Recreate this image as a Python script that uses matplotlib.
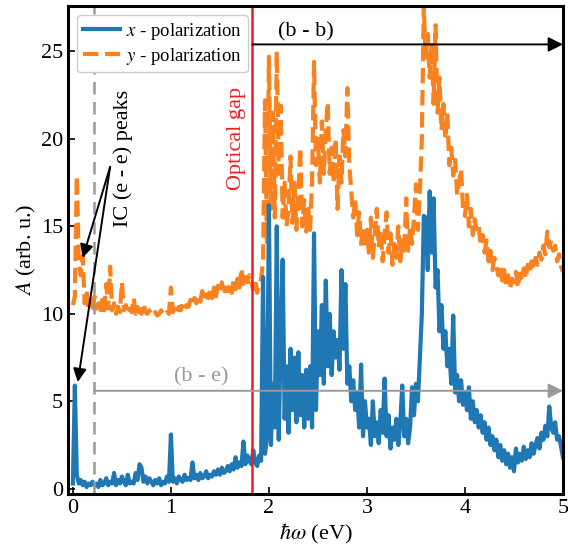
import numpy as np
import matplotlib
matplotlib.use('Agg')
import matplotlib.pyplot as plt

plt.rcParams['font.family'] = ['Liberation Serif', 'DejaVu Serif']
plt.rcParams['mathtext.fontset'] = 'stix'

# energy grid (eV), 0.02 eV step
energy = np.round(np.arange(0, 5.0001, 0.02), 2)

# x - polarization
a_x = [
    0.3, 5.9, 0.8, 0.3, 0.5, 0.2, 0.4, 0.1, 0.3, 0.2,
    0.4, 0.2, 0.3, 0.1, 0.5, 0.2, 0.3, 0.6, 0.2, 0.4,
    0.3, 0.9, 0.2, 0.5, 0.3, 0.7, 0.4, 0.2, 0.8, 0.3,
    0.4, 0.3, 0.9, 0.5, 1.4, 1.2, 0.4, 0.7, 0.3, 0.6,
    0.4, 0.2, 0.5, 0.3, 0.6, 0.2, 0.4, 0.3, 0.7, 0.4,
    3.1, 0.4, 0.6, 0.3, 0.7, 0.5, 0.4, 0.8, 0.5, 0.6,
    0.5, 1.5, 0.6, 0.8, 0.5, 0.9, 0.6, 0.7, 1.0, 0.6,
    0.8, 0.7, 1.0, 0.8, 1.1, 0.8, 1.2, 0.9, 1.0, 1.3,
    1.0, 1.4, 1.1, 1.8, 1.2, 1.5, 1.3, 2.7, 1.4, 1.9,
    1.6, 1.4, 2.2, 1.5, 1.3, 1.9, 1.6, 12.1, 2.0, 3.0,
    16.2, 2.5, 6.0, 3.5, 15.0, 2.8, 8.5, 13.1, 4.0, 7.0,
    3.2, 8.0, 4.5, 7.5, 3.8, 7.8, 4.2, 6.5, 3.5, 6.8,
    4.0, 7.0, 3.5, 14.6, 4.5, 9.0, 6.5, 10.5, 6.0, 11.9,
    7.0, 10.0, 6.5, 9.0, 7.5, 8.5, 6.8, 12.5, 8.0, 11.7,
    6.0, 7.0, 5.0, 6.2, 4.5, 5.5, 3.5, 7.1, 3.0, 5.0,
    3.5, 4.0, 2.5, 5.0, 3.0, 3.8, 2.6, 4.5, 3.2, 6.3,
    3.0, 4.2, 2.3, 3.5, 2.8, 4.0, 2.5, 3.8, 5.9, 3.0,
    4.0, 2.6, 3.5, 5.8, 4.2, 6.0, 5.0, 7.5, 10.0, 15.6,
    15.5, 12.5, 17.0, 13.5, 16.6, 11.5, 12.5, 9.0, 10.5, 8.0,
    9.0, 7.0, 8.0, 6.0, 9.9, 5.5, 6.5, 5.0, 6.2, 4.8,
    5.5, 4.5, 5.8, 4.0, 5.0, 3.8, 4.5, 3.5, 4.2, 3.2,
    3.8, 2.8, 3.5, 2.5, 3.0, 2.2, 2.8, 1.8, 2.5, 1.6,
    2.2, 1.4, 2.0, 1.2, 1.8, 1.0, 2.3, 1.5, 2.0, 1.6,
    2.4, 1.7, 2.2, 1.8, 2.6, 2.0, 2.5, 2.9, 2.3, 3.2,
    2.8, 3.6, 3.0, 4.7, 3.5, 3.2, 3.8, 2.8, 3.0, 2.4,
    1.8,
]

# y - polarization
a_y = [
    10.5, 11.0, 17.9, 13.0, 12.2, 13.3, 10.6, 11.3, 10.2, 10.8,
    10.1, 11.0, 10.3, 10.6, 10.0, 10.8, 10.2, 11.7, 10.3, 12.7,
    10.2, 10.6, 10.0, 10.4, 10.1, 11.8, 10.2, 10.5, 10.0, 10.3,
    10.1, 10.9, 10.0, 10.4, 10.1, 10.0, 10.6, 10.1, 10.0, 10.2,
    9.9, 10.0, 10.1, 9.9, 10.0, 10.2, 10.0, 9.9, 10.1, 10.0,
    11.5, 10.1, 10.3, 10.0, 10.4, 10.2, 10.6, 10.3, 10.5, 10.4,
    10.8, 10.5, 10.9, 10.6, 11.0, 10.7, 11.3, 10.8, 11.1, 10.9,
    11.4, 10.9, 11.5, 11.0, 11.6, 11.2, 11.8, 11.1, 11.5, 11.3,
    11.7, 11.2, 11.9, 11.4, 12.0, 11.5, 12.6, 11.6, 12.1, 11.8,
    12.2, 11.8, 11.4, 12.0, 11.2, 11.6, 12.0, 13.0, 22.2, 14.0,
    24.7, 16.0, 21.5, 15.5, 25.0, 18.0, 21.9, 15.5, 17.5, 15.0,
    16.0, 19.0, 15.2, 17.5, 14.8, 16.8, 19.5, 15.0, 16.5, 14.7,
    16.0, 14.8, 17.5, 24.4, 18.5, 20.0, 17.5, 21.0, 18.0, 20.5,
    22.1, 18.0, 19.5, 17.5, 20.0, 16.0, 19.0, 17.5, 20.5, 19.0,
    22.9, 18.5, 17.0, 15.5, 16.5, 14.5, 15.8, 14.0, 15.0, 13.8,
    14.8, 13.5, 15.5, 13.2, 14.5, 16.0, 13.8, 14.8, 13.0, 14.5,
    15.8, 13.5, 14.6, 12.8, 14.0, 13.2, 15.0, 13.0, 14.2, 13.4,
    16.6, 13.6, 15.0, 14.0, 15.5, 17.4, 14.8, 17.0, 20.0, 27.6,
    24.5, 26.0, 23.5, 25.5, 22.0, 26.5, 21.5, 23.5, 20.5, 22.0,
    20.0, 21.5, 18.5, 19.5, 17.9, 18.8, 16.8, 17.5, 18.3, 16.0,
    15.6, 16.8, 15.0, 16.0, 14.5, 15.4, 14.7, 15.0, 13.9, 14.5,
    13.5, 14.2, 13.0, 13.6, 12.5, 13.2, 12.7, 12.2, 12.8, 11.9,
    12.5, 11.6, 12.2, 11.4, 12.0, 11.8, 12.4, 11.5, 12.3, 11.9,
    12.6, 12.0, 12.8, 12.3, 13.0, 12.5, 13.2, 12.8, 13.5, 13.1,
    13.9, 13.4, 14.7, 13.8, 14.2, 13.6, 13.9, 13.0, 13.4, 12.7,
    12.4,
]

gap = 1.83
ic_edge = 0.22

fig = plt.figure(figsize=(5.68, 5.49), dpi=100)
ax = fig.add_axes([0.1197, 0.1002, 0.8715, 0.889])

ly, = ax.plot(energy, a_y, '--', color='#f7821f', lw=3.0, label='$y$ - polarization')
lx, = ax.plot(energy, a_x, '-', color='#1f77b4', lw=3.0, label='$x$ - polarization')

ax.axvline(gap, color='#ee1c25', lw=1.8)
ax.axvline(ic_edge, color='#999999', lw=1.8, ls=(0, (5, 3)))

# (b - b) and (b - e) ranges
ax.annotate('', xy=(5.0, 25.4), xytext=(gap, 25.4),
            arrowprops=dict(arrowstyle='-|>', color='k', lw=1.4,
                            mutation_scale=22, shrinkA=0, shrinkB=0))
ax.text(2.38, 26.1, '(b - b)', fontsize=16, ha='center', va='center')
ax.annotate('', xy=(5.0, 5.6), xytext=(ic_edge, 5.6),
            arrowprops=dict(arrowstyle='-|>', color='#999999', lw=1.4,
                            mutation_scale=22, shrinkA=0, shrinkB=0))
ax.text(1.31, 6.4, '(b - e)', fontsize=16, color='#999999', ha='center', va='center')

# IC peaks
for tip in [(0.10, 13.2), (0.05, 6.1)]:
    ax.annotate('', xy=tip, xytext=(0.38, 18.4),
                arrowprops=dict(arrowstyle='-|>', color='k', lw=1.4,
                                mutation_scale=20, shrinkA=0, shrinkB=0))
ax.text(0.51, 18.9, 'IC (e - e) peaks', fontsize=16, rotation=90,
        ha='center', va='center')
ax.text(1.67, 20.0, 'Optical gap', fontsize=16, rotation=90, color='#ee1c25',
        ha='center', va='center')

ax.set_xlim(-0.05, 5.0)
ax.set_ylim(-0.3, 27.6)
ax.set_xticks([0, 1, 2, 3, 4, 5])
ax.set_yticks([0, 5, 10, 15, 20, 25])
ax.tick_params(direction='in', labelsize=16, length=5, width=1.2)
for s in ax.spines.values():
    s.set_linewidth(2.2)
ax.set_xlabel(r'$\hbar\omega$ (eV)', fontsize=16, labelpad=3)
ax.set_ylabel('$A$ (arb. u.)', fontsize=16, labelpad=2)

ax.legend(handles=[lx, ly], loc='upper left', fontsize=13.5, handlelength=2.0,
          handletextpad=0.3, borderpad=0.3, labelspacing=0.2, framealpha=1,
          edgecolor='#cccccc')

fig.savefig('out.png', dpi=100)
